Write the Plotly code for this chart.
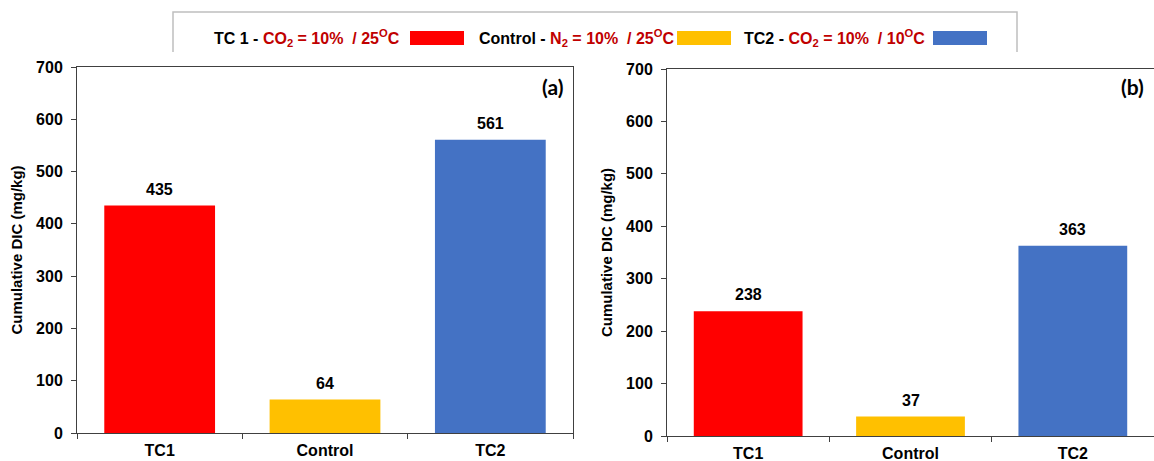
import plotly.graph_objects as go

categories = ["TC1", "Control", "TC2"]
values_a = [435, 64, 561]
values_b = [238, 37, 363]
bar_colors = ["#FF0000", "#FFC000", "#4472C4"]
y_ticks = [0, 100, 200, 300, 400, 500, 600, 700]
y_title = "Cumulative DIC (mg/kg)"
panel_labels = ["(a)", "(b)"]

W, H = 1154, 461
FONT = "Liberation Sans, Arial, sans-serif"

def px(x):
    return x / W

def py(y):
    return (H - y) / H

fig = go.Figure()
for vals, xa, ya in [(values_a, "x", "y"), (values_b, "x2", "y2")]:
    fig.add_trace(go.Bar(
        x=categories, y=vals, xaxis=xa, yaxis=ya,
        marker=dict(color=bar_colors, line=dict(width=0)),
        width=0.67, showlegend=False, hoverinfo="x+y",
    ))
    for c, v in zip(categories, vals):
        fig.add_annotation(x=c, y=v, xref=xa, yref=ya, text=str(v),
                           xanchor="center", yanchor="bottom", yshift=6, showarrow=False,
                           font=dict(family=FONT, size=16, color="#000000", weight="bold"))

axis_line = "#404040"
tickfont = dict(family=FONT, size=16, color="#000000", weight="bold")
xcommon = dict(showline=True, linecolor=axis_line, linewidth=1, mirror=True,
               ticks="outside", tickson="boundaries", ticklen=5, tickcolor=axis_line,
               tickfont=tickfont, automargin=False, ticklabelstandoff=3,
               showgrid=False, zeroline=False, fixedrange=True)
ycommon = dict(showline=True, linecolor=axis_line, linewidth=1, mirror=True,
               ticks="outside", ticklen=5, tickcolor=axis_line,
               tickvals=y_ticks, range=[0, 700],
               tickfont=tickfont, automargin=False, ticklabelstandoff=5,
               showgrid=False, zeroline=False, fixedrange=True,
               title=dict(text=y_title, standoff=9,
                          font=dict(family=FONT, size=15, color="#000000", weight="bold")))

fig.update_layout(
    width=W, height=H, margin=dict(l=0, r=0, t=0, b=0, pad=0, autoexpand=False),
    paper_bgcolor="white", plot_bgcolor="white",
    bargap=0.33,
    xaxis=dict(domain=[px(77), px(573)], anchor="y", **xcommon),
    yaxis=dict(domain=[py(433), py(67)], anchor="x", **ycommon),
    xaxis2=dict(domain=[px(667), 1.0], anchor="y2", **xcommon),
    yaxis2=dict(domain=[py(436), py(69)], anchor="x2", **ycommon),
)

# panel labels
for lab, xx in zip(panel_labels, [565, 1146]):
    fig.add_annotation(text=lab, xref="paper", yref="paper",
                       x=px(xx), y=py(87), xanchor="right", yanchor="middle", showarrow=False,
                       font=dict(family="Lato, sans-serif", size=21, color="#000000", weight="bold"))

# legend box (top, left, right edges)
fig.add_shape(type="path", xref="paper", yref="paper",
              path=f"M {px(173)},{py(52)} L {px(173)},{py(12)} L {px(1017)},{py(12)} L {px(1017)},{py(52)}",
              line=dict(color="#BFBFBF", width=1.5))

red = "#C00000"
legend_items = [
    ("TC 1 - ", "CO<sub>2</sub> = 10%&nbsp; / 25<sup>O</sup>C", 212, 410, bar_colors[0]),
    ("Control - ", "N<sub>2</sub> = 10%&nbsp; / 25<sup>O</sup>C", 477, 677, bar_colors[1]),
    ("TC2 - ", "CO<sub>2</sub> = 10%&nbsp; / 10<sup>O</sup>C", 742, 933, bar_colors[2]),
]
for black, colored, tx, sx, col in legend_items:
    fig.add_annotation(
        text=f"<b>{black}<span style='color:{red}'>{colored}</span></b>",
        xref="paper", yref="paper", x=px(tx), y=py(38), xanchor="left", yanchor="middle",
        showarrow=False, font=dict(family=FONT, size=16, color="#000000"))
    fig.add_shape(type="rect", xref="paper", yref="paper",
                  x0=px(sx), x1=px(sx + 54), y0=py(45), y1=py(31),
                  fillcolor=col, line=dict(width=0))

post = (
    "document.documentElement.style.margin='0';"
    "document.documentElement.style.overflow='hidden';"
    "document.body.style.margin='0';"
    "document.body.style.overflow='hidden';"
)
fig.write_html("out.html", config={"displayModeBar": False}, post_script=post)
